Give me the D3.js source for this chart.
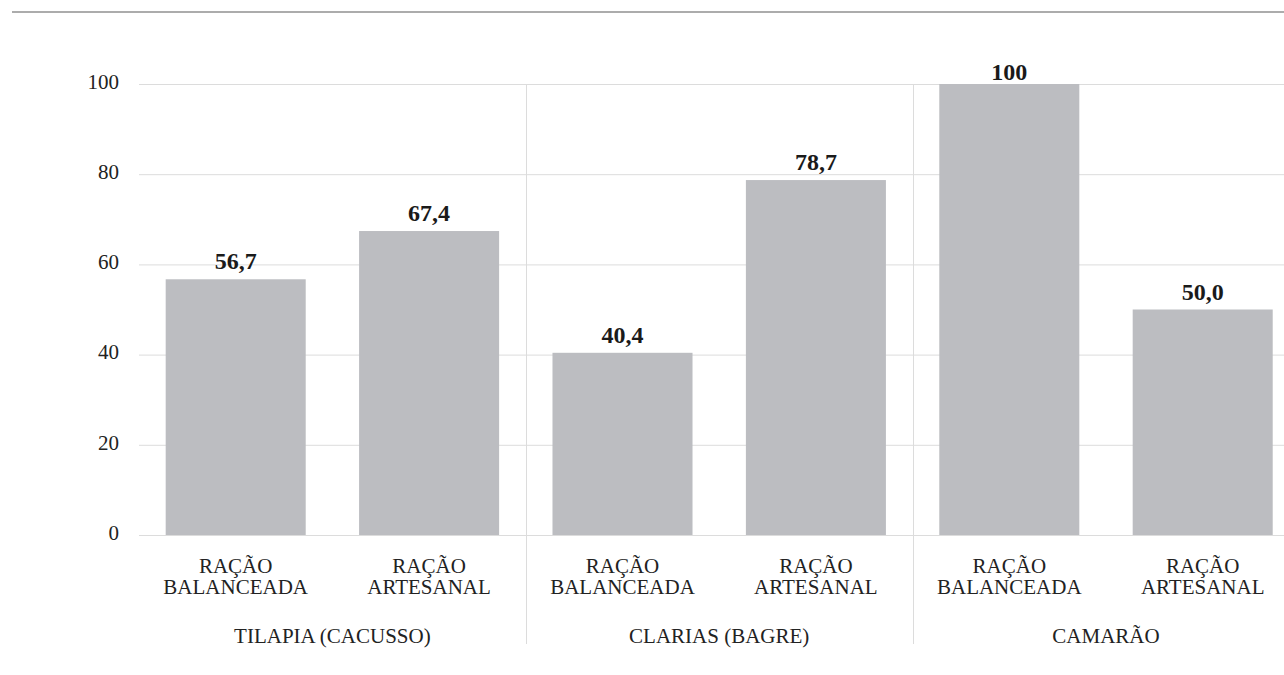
<!DOCTYPE html>
<html>
<head>
<meta charset="utf-8">
<script src="https://cdn.jsdelivr.net/npm/d3@7"></script>
<style>
  html, body { margin: 0; padding: 0; background: #fff; }
  svg { display: block; }
  text { font-family: "Liberation Serif", "Times New Roman", serif; }
</style>
</head>
<body>
<svg id="chart" width="1284" height="675"></svg>
<script>
// ---- data ----
const groups = ["TILAPIA (CACUSSO)", "CLARIAS (BAGRE)", "CAMARÃO"];
const feedLine1 = ["RAÇÃO", "RAÇÃO"];
const feedLine2 = ["BALANCEADA", "ARTESANAL"];
const values = [56.7, 67.4, 40.4, 78.7, 100, 50.0];
const yTicks = [0, 20, 40, 60, 80, 100];

// ---- layout ----
(function () {
const W = 1284, H = 675;
const mLeft = 139, mRight = 1299.4, mTop = 84, mBottom = 535;
const svg = d3.select("#chart");

const items = [];
groups.forEach((g, gi) => feedLine1.forEach((f, fi) => {
  items.push({ group: gi, l1: f, l2: feedLine2[fi], v: values[gi * feedLine1.length + fi], i: items.length });
}));

const x = d3.scaleBand().domain(items.map(d => d.i))
  .range([mLeft, mRight]).paddingInner(0.276).paddingOuter(0.138);
const y = d3.scaleLinear().domain([0, 100]).range([mBottom, mTop]);

// top rule
svg.append("line").attr("x1", 12).attr("x2", W).attr("y1", 12).attr("y2", 12)
  .attr("stroke", "#acacac").attr("stroke-width", 2);

// y axis with gridlines
const yAxis = svg.append("g").attr("transform", `translate(${mLeft},0)`)
  .call(d3.axisLeft(y).tickValues(yTicks).tickSize(-(W - mLeft)).tickPadding(20).tickFormat(d3.format("d")));
yAxis.select(".domain").remove();
yAxis.selectAll(".tick line").attr("stroke", "#dcdcdc").attr("stroke-width", 1);
yAxis.selectAll(".tick text").attr("font-size", 21).attr("fill", "#222").attr("dy", "0.2em")
  .style("font-family", '"Liberation Serif", "Times New Roman", serif');

// group separators
for (let g = 1; g < groups.length; g++) {
  const prev = items.filter(d => d.group === g - 1).pop();
  const next = items.find(d => d.group === g);
  const sx = Math.round((x(prev.i) + x.bandwidth() + x(next.i)) / 2) + 0.5;
  svg.append("line").attr("x1", sx).attr("x2", sx).attr("y1", mTop).attr("y2", 644)
    .attr("stroke", "#dcdcdc").attr("stroke-width", 1);
}

// bars
svg.append("g").selectAll("rect").data(items).join("rect")
  .attr("x", d => x(d.i)).attr("width", x.bandwidth())
  .attr("y", d => y(d.v)).attr("height", d => y(0) - y(d.v))
  .attr("fill", "#bcbdc1");

// value labels
const fmt = v => v >= 100 ? d3.format("d")(v) : d3.format(".1f")(v).replace(".", ",");
svg.append("g").selectAll("text").data(items).join("text")
  .attr("x", d => x(d.i) + x.bandwidth() / 2)
  .attr("y", d => Math.max(y(d.v) - 10, 80))
  .attr("text-anchor", "middle").attr("font-size", 24).attr("font-weight", "bold")
  .attr("fill", "#1a1a1a").text(d => fmt(d.v));

// category labels
const cat = svg.append("g").selectAll("text").data(items).join("text")
  .attr("text-anchor", "middle").attr("font-size", 21).attr("fill", "#222");
cat.append("tspan").attr("x", d => x(d.i) + x.bandwidth() / 2).attr("y", 573).text(d => d.l1);
cat.append("tspan").attr("x", d => x(d.i) + x.bandwidth() / 2).attr("y", 594).text(d => d.l2);

// group labels
svg.append("g").selectAll("text").data(groups).join("text")
  .attr("x", (g, gi) => {
    const its = items.filter(d => d.group === gi);
    return (x(its[0].i) + x(its[its.length - 1].i) + x.bandwidth()) / 2;
  })
  .attr("y", 643).attr("text-anchor", "middle").attr("font-size", 21).attr("fill", "#222")
  .text(g => g);
})();
</script>
</body>
</html>
